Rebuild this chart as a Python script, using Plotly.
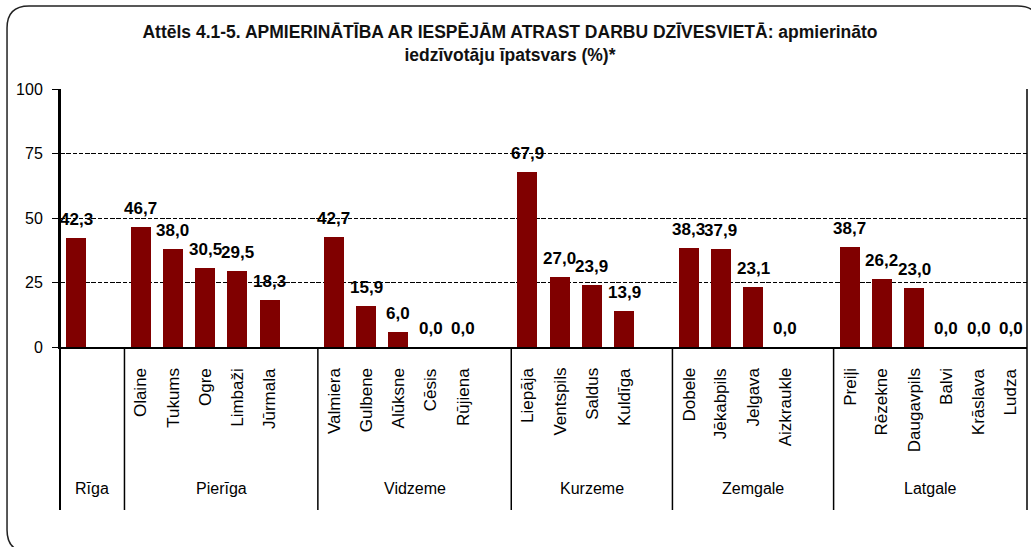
import plotly.graph_objects as go

# ---- data ----
regions = ["Rīga", "Pierīga", "Vidzeme", "Kurzeme", "Zemgale", "Latgale"]
riga_cities = [""]
riga_values = [42.3]
pieriga_cities = ["Olaine", "Tukums", "Ogre", "Limbaži", "Jūrmala"]
pieriga_values = [46.7, 38.0, 30.5, 29.5, 18.3]
vidzeme_cities = ["Valmiera", "Gulbene", "Alūksne", "Cēsis", "Rūjiena"]
vidzeme_values = [42.7, 15.9, 6.0, 0.0, 0.0]
kurzeme_cities = ["Liepāja", "Ventspils", "Saldus", "Kuldīga"]
kurzeme_values = [67.9, 27.0, 23.9, 13.9]
zemgale_cities = ["Dobele", "Jēkabpils", "Jelgava", "Aizkraukle"]
zemgale_values = [38.3, 37.9, 23.1, 0.0]
latgale_cities = ["Preiļi", "Rēzekne", "Daugavpils", "Balvi", "Krāslava", "Ludza"]
latgale_values = [38.7, 26.2, 23.0, 0.0, 0.0, 0.0]
y_ticks = [0, 25, 50, 75, 100]

title = ("Attēls 4.1-5. APMIERINĀTĪBA AR IESPĒJĀM ATRAST DARBU DZĪVESVIETĀ: apmierināto"
         "<br>iedzīvotāju īpatsvars (%)*")

groups = [
    (regions[0], riga_cities, riga_values),
    (regions[1], pieriga_cities, pieriga_values),
    (regions[2], vidzeme_cities, vidzeme_values),
    (regions[3], kurzeme_cities, kurzeme_values),
    (regions[4], zemgale_cities, zemgale_values),
    (regions[5], latgale_cities, latgale_values),
]

# ---- layout geometry (pixels) ----
W, H = 1031, 547
L, R, T, B = 60, 1027.5, 89, 347
FONT = "Liberation Sans, Arial, sans-serif"

xs, ys, names = [], [], []
boundaries = [0]
group_centers = []
slot = 0
for gi, (reg, cities, vals) in enumerate(groups):
    start = slot
    for c, v in zip(cities, vals):
        xs.append(slot); ys.append(v); names.append(c)
        slot += 1
    if gi < len(groups) - 1:
        slot += 1  # empty slot after group
    boundaries.append(slot)
    group_centers.append((start + slot) / 2 - 0.5)
n_slots = slot

def px_x(p):
    return (p - L) / (R - L)

def px_y(p):
    return (B - p) / (B - T)

fig = go.Figure()
fig.add_trace(go.Bar(
    x=xs, y=ys, width=0.62,
    marker=dict(color="#800000", line=dict(width=0)),
    hoverinfo="x+y",
))

annotations = []
# data labels
for x, v in zip(xs, ys):
    annotations.append(dict(
        x=x, y=v, xref="x", yref="y", text=f"{v:.1f}".replace(".", ","),
        showarrow=False, yanchor="bottom", xanchor="center", yshift=7,
        font=dict(family=FONT, size=17, color="#000000", weight="bold"),
    ))
# rotated city labels
for x, nm in zip(xs, names):
    if not nm:
        continue
    annotations.append(dict(
        x=x, y=0, xref="x", yref="paper", text=nm, textangle=-90,
        showarrow=False, yanchor="top", xanchor="center", yshift=-(366 - B),
        font=dict(family=FONT, size=17, color="#000000"),
    ))
# region labels
for gc, (reg, _, _) in zip(group_centers, groups):
    annotations.append(dict(
        x=gc, y=0, xref="x", yref="paper", text=reg,
        showarrow=False, yanchor="middle", xanchor="center", yshift=-(488 - B),
        font=dict(family=FONT, size=16, color="#000000"),
    ))

shapes = []
y_bot = px_y(510)
for b in boundaries:
    xp = b / n_slots
    top = 1 if b in (0, n_slots) else 0
    shapes.append(dict(type="line", xref="paper", yref="paper",
                       x0=xp, x1=xp, y0=y_bot, y1=top,
                       line=dict(color="#000000", width=2 if b == 0 else 1.5)))

# rounded outer border
bl, bt, br, bb, rad = 7, 6, 1040, 552, 22
pts = [
    f"M {px_x(bl+rad)},{px_y(bt)}",
    f"L {px_x(br-rad)},{px_y(bt)}",
    f"Q {px_x(br)},{px_y(bt)} {px_x(br)},{px_y(bt+rad)}",
    f"L {px_x(br)},{px_y(bb-rad)}",
    f"Q {px_x(br)},{px_y(bb)} {px_x(br-rad)},{px_y(bb)}",
    f"L {px_x(bl+rad)},{px_y(bb)}",
    f"Q {px_x(bl)},{px_y(bb)} {px_x(bl)},{px_y(bb-rad)}",
    f"L {px_x(bl)},{px_y(bt+rad)}",
    f"Q {px_x(bl)},{px_y(bt)} {px_x(bl+rad)},{px_y(bt)} Z",
]
shapes.append(dict(type="path", xref="paper", yref="paper", path=" ".join(pts),
                   line=dict(color="#222222", width=1.5), layer="below"))

fig.update_layout(
    width=W, height=H,
    margin=dict(l=L, r=W - R, t=T, b=H - B, pad=0),
    paper_bgcolor="white", plot_bgcolor="white",
    showlegend=False,
    title=dict(text=title, x=510 / W, xanchor="center", y=1 - 38 / H, yanchor="middle",
               font=dict(family=FONT, size=17.5, color="#111111", weight="bold")),
    xaxis=dict(range=[-0.5, n_slots - 0.5], showticklabels=False, showgrid=False,
               zeroline=False, showline=True, linecolor="#000000", linewidth=2,
               ticks="", fixedrange=True),
    yaxis=dict(range=[0, 100], tickvals=y_ticks, showgrid=True, gridcolor="#000000",
               griddash="4.5px,1.75px", gridwidth=1, zeroline=False, showline=True,
               linecolor="#000000", linewidth=2, ticks="outside", ticklen=6,
               tickcolor="#000000", tickwidth=1,
               tickfont=dict(family=FONT, size=16, color="#000000"),
               ticklabelstandoff=6),
    annotations=annotations,
    shapes=shapes,
    bargap=0,
)

fig.write_html("out.html", config={"displayModeBar": False},
               post_script="document.body.style.margin='0';")
